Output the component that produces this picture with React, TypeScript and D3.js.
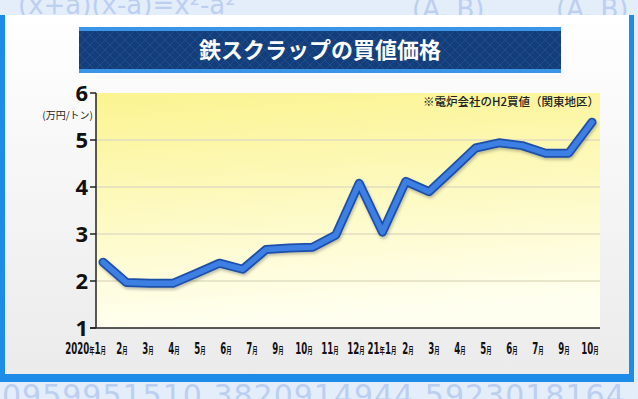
import * as d3 from "d3";

// ── Data ──────────────────────────────────────────────────────────────────────

// monthly values, Jan 2020 – Oct 2021 (万円/トン)
const MONTHS = [
  "2020-01", "2020-02", "2020-03", "2020-04", "2020-05", "2020-06",
  "2020-07", "2020-08", "2020-09", "2020-10", "2020-11", "2020-12",
  "2021-01", "2021-02", "2021-03", "2021-04", "2021-05", "2021-06",
  "2021-07", "2021-08", "2021-09", "2021-10",
];
const PRICES = [
  2.40, 1.97, 1.95, 1.95, 2.16, 2.38, 2.25, 2.67, 2.70, 2.72, 2.98, 4.08,
  3.04, 4.12, 3.90, 4.36, 4.83, 4.94, 4.88, 4.72, 4.72, 5.38,
];

// axis labels as printed (August is skipped on the axis)
const LABEL_NUMS = ["2020", "2", "3", "4", "5", "6", "7", "9", "10", "11", "12", "21", "2", "3", "4", "5", "6", "7", "9", "10"];
const LABEL_YEAR_MONTH = ["1", "", "", "", "", "", "", "", "", "", "", "1", "", "", "", "", "", "", "", ""];
const Y_TICKS = [1, 2, 3, 4, 5, 6];

// ── Layout ────────────────────────────────────────────────────────────────────

const W = 638;
const H = 399;
const PLOT = { left: 96, right: 600, top: 93, bottom: 328 };
const JP = "'Noto Sans CJK JP', 'Noto Sans', sans-serif";
const COND = "'DejaVu Sans Condensed', 'DejaVu Sans', sans-serif";

export default function App() {
  const x = d3.scalePoint<string>().domain(MONTHS).range([103, 592]);
  const xl = d3.scalePoint<number>().domain(d3.range(LABEL_NUMS.length)).range([96, 590]);
  const y = d3.scaleLinear().domain([1, 6]).range([PLOT.bottom, PLOT.top]);

  const line = d3
    .line<number>()
    .x((_, i) => x(MONTHS[i]) ?? 0)
    .y((d) => y(d));
  const path = line(PRICES) ?? "";

  return (
    <div style={{ position: "fixed", left: 0, top: 0, width: W, height: H }}>
      <svg width={W} height={H} viewBox={`0 0 ${W} ${H}`} style={{ display: "block" }}>
        <defs>
          <linearGradient id="plot-bg" x1="0" y1="0" x2="0.15" y2="1">
            <stop offset="0%" stopColor="#fbf491" />
            <stop offset="100%" stopColor="#fffff0" />
          </linearGradient>
          <linearGradient id="panel-bg" x1="0" y1="0" x2="0" y2="1">
            <stop offset="0%" stopColor="#ffffff" />
            <stop offset="100%" stopColor="#ebebeb" />
          </linearGradient>
          <pattern id="banner-pat" width="10" height="10" patternUnits="userSpaceOnUse">
            <rect width="10" height="10" fill="#143e7a" />
            <path d="M5 0 L10 5 L5 10 L0 5 Z" fill="none" stroke="#1e4e90" strokeWidth="1" />
          </pattern>
          <filter id="shadow" x="-5%" y="-5%" width="110%" height="110%">
            <feDropShadow dx="1" dy="2" stdDeviation="1.5" floodColor="#000" floodOpacity="0.25" />
          </filter>
        </defs>

        {/* outer background with faded maths */}
        <rect width={W} height={H} fill="#e4edfa" />
        <g fill="#bccff0" fontFamily="'DejaVu Sans', sans-serif" fontSize="26">
          <text x="18" y="14">(x+a)(x-a)=x²-a²</text>
          <text x="412" y="18">(A, B)</text>
          <text x="556" y="18">(A, B)</text>
          <text x="2" y="406" fontSize="30" letterSpacing="1">0959951510 3820914944 5923018164 062862</text>
        </g>

        {/* panel: blue sides and bottom, open top */}
        <rect x="0" y="15" width="634" height="367" fill="#1d8ce9" />
        <rect x="5" y="15" width="624" height="359" fill="url(#panel-bg)" />

        {/* title banner */}
        <rect x="79" y="29" width="482" height="43" fill="url(#banner-pat)" />
        <rect x="79" y="27" width="482" height="4" fill="#3b95e6" />
        <rect x="79" y="69" width="482" height="4" fill="#3b95e6" />
        <text x="320" y="58" textAnchor="middle" fill="#ffffff" fontFamily={JP} fontWeight="700" fontSize="22">
          鉄スクラップの買値価格
        </text>

        {/* plot area */}
        <rect x={PLOT.left} y={PLOT.top} width={PLOT.right - PLOT.left} height={PLOT.bottom - PLOT.top} fill="url(#plot-bg)" />
        {Y_TICKS.filter((t) => t > 1 && t < 6).map((t) => (
          <line key={t} x1={PLOT.left} x2={PLOT.right} y1={y(t)} y2={y(t)} stroke="#e2dcc0" strokeWidth="1.5" />
        ))}

        {/* axes */}
        <line x1={PLOT.left} x2={PLOT.left} y1={PLOT.top} y2={PLOT.bottom} stroke="#222" strokeWidth="1.5" />
        <line x1={PLOT.left - 6} x2={PLOT.right} y1={PLOT.bottom} y2={PLOT.bottom} stroke="#222" strokeWidth="1.5" />
        {Y_TICKS.map((t) => (
          <g key={t}>
            <line x1={PLOT.left - 6} x2={PLOT.left} y1={y(t)} y2={y(t)} stroke="#222" strokeWidth="1.5" />
            <text
              x={PLOT.left - 8}
              y={y(t)}
              dy="0.36em"
              textAnchor="end"
              fill="#111"
              fontFamily="'Open Sans', sans-serif"
              fontWeight="700"
              fontSize="22"
            >
              {t}
            </text>
          </g>
        ))}
        <text x="93" y="119" textAnchor="end" fill="#222" fontFamily={JP} fontSize="10">
          (万円/トン)
        </text>
        <text x="599" y="106" textAnchor="end" fill="#222" fontFamily={JP} fontWeight="500" fontSize="11.5">
          ※電炉会社のH2買値（関東地区）
        </text>

        {/* x labels, condensed */}
        {LABEL_NUMS.map((n, i) => {
          const cx = xl(i) ?? 0;
          const withYear = LABEL_YEAR_MONTH[i] !== "";
          const anchor = i === 0 ? "end" : "middle";
          const tx = i === 0 ? cx + 10 : cx;
          return (
            <text
              key={i}
              transform={`translate(${tx},354) scale(0.6,1)`}
              textAnchor={anchor}
              fill="#111"
              fontFamily={COND}
              fontWeight="700"
              fontSize="16"
            >
              {n}
              {withYear && (
                <tspan fontFamily={JP} fontSize="9">
                  年
                </tspan>
              )}
              {withYear && <tspan>{LABEL_YEAR_MONTH[i]}</tspan>}
              <tspan fontFamily={JP} fontSize="9">
                月
              </tspan>
            </text>
          );
        })}

        {/* price line */}
        <g filter="url(#shadow)">
          <path d={path} fill="none" stroke="#1f4fa8" strokeWidth="9" strokeLinejoin="round" strokeLinecap="round" />
          <path d={path} fill="none" stroke="#3d7fe3" strokeWidth="5.5" strokeLinejoin="round" strokeLinecap="round" />
        </g>
      </svg>
    </div>
  );
}
